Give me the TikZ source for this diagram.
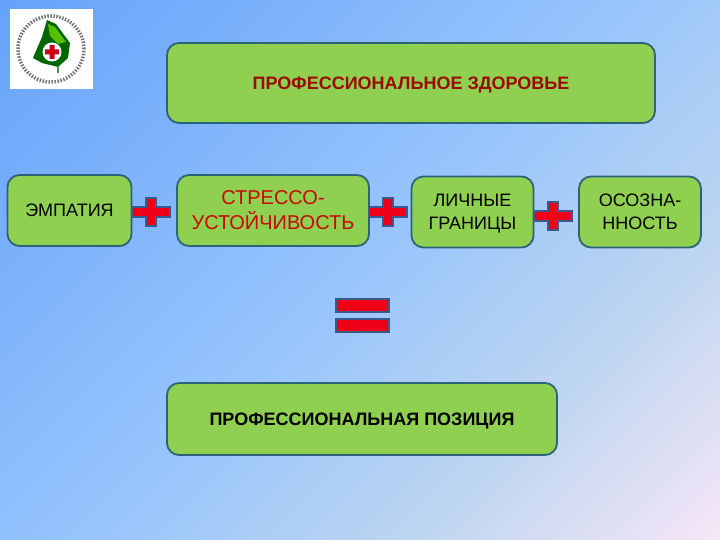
\documentclass[tikz,border=0pt]{standalone}
\usepackage{fontspec}
\setmainfont{Liberation Sans}
\usepackage{xcolor}
\usetikzlibrary{positioning,calc}

\definecolor{boxgreen}{HTML}{90D050}
\definecolor{boxline}{HTML}{2B6478}
\definecolor{bgblue}{HTML}{66A3FA}
\definecolor{bgmid}{HTML}{98C5FC}
\definecolor{bgpale}{HTML}{BDD5F0}
\definecolor{bgpink}{HTML}{F4E6F6}
\definecolor{signred}{HTML}{F00018}
\definecolor{signline}{HTML}{3B5A8C}
\definecolor{titlered}{HTML}{9A0A00}
\definecolor{stressred}{HTML}{C80808}

\pgfdeclareverticalshading{bgshade}{100bp}{
    color(0bp)=(bgpink); color(15bp)=(bgpink); color(32bp)=(bgpale); color(50bp)=(bgmid); color(85bp)=(bgblue); color(100bp)=(bgblue)}

\tikzset{
    greenbox/.style={draw=boxline, line width=1.8pt, fill=boxgreen, rounded corners=12pt,
        align=center, inner sep=0pt, text depth=0pt, font=\fontsize{18}{23}\selectfont},
    boldbox/.style={greenbox, font=\fontsize{18}{23}\bfseries\selectfont},
    signbar/.style={draw=signline, line width=1.2pt, fill=signred},
}

\begin{document}
\begin{tikzpicture}[x=1pt,y=-1pt]
    \useasboundingbox (0,0) rectangle (720,540);

    % Fond
    \shade[shading=bgshade, shading angle=45] (0,0) rectangle (720,540);

    % Logo
    \node[fill=white, minimum width=83pt, minimum height=80pt, inner sep=0pt] (logo) at (51.5,49) {};
    \draw[black!55, line width=3.5pt, dash pattern=on 1.5pt off 1.5pt] (51,49) circle (33pt);
    \fill[green!40!black] (47,20) -- (56,24) -- (70,43) -- (68,58) -- (58,67) -- (42,63) -- (33,58) -- (42,37) -- cycle;
    \fill[green!55!yellow!75!black] (48,24) -- (55,27) -- (66,42) -- (58,44) -- (50,36) -- cycle;
    \draw[green!40!black!70!white, line width=1.5pt] (58,66) -- (58,73);
    \fill[white] (52,52) circle (9.5pt);
    \fill[signred!85!black] (49.5,45) rectangle (54.5,59) (45,49.5) rectangle (59,54.5);

    % Boites
    \node[boldbox, minimum width=488pt, minimum height=80pt, text=titlered] (health) at (411,83) {ПРОФЕССИОНАЛЬНОЕ ЗДОРОВЬЕ};
    \node[greenbox, minimum width=124pt, minimum height=71pt] (empathy) at (69.5,210.5) {ЭМПАТИЯ};
    \node[greenbox, minimum width=192pt, minimum height=71pt, font=\fontsize{20}{25}\selectfont, text=stressred, text depth=-2pt] (stress) at (273,210.5) {СТРЕССО-\\УСТОЙЧИВОСТЬ};
    \node[greenbox, minimum width=122pt, minimum height=71pt, text depth=-4pt] (limits) at (472.5,212) {ЛИЧНЫЕ\\ГРАНИЦЫ};
    \node[greenbox, minimum width=122pt, minimum height=71pt, text depth=-2pt] (aware) at (640,212) {ОСОЗНА-\\ННОСТЬ};
    \node[boldbox, minimum width=390pt, minimum height=72pt] (position) at (362,419) {ПРОФЕССИОНАЛЬНАЯ ПОЗИЦИЯ};

    % Signes plus
    \foreach \name/\xc/\yc in {plusa/151/212, plusb/388/212, plusc/553/216} {
        \coordinate (\name) at (\xc,\yc);
        \draw[signbar] ($(\name)+(-19,-5)$) -- ($(\name)+(-5,-5)$) -- ($(\name)+(-5,-14)$) -- ($(\name)+(5,-14)$) -- ($(\name)+(5,-5)$) -- ($(\name)+(19,-5)$) -- ($(\name)+(19,5)$) -- ($(\name)+(5,5)$) -- ($(\name)+(5,14)$) -- ($(\name)+(-5,14)$) -- ($(\name)+(-5,5)$) -- ($(\name)+(-19,5)$) -- cycle;
    }

    % Signe egal
    \draw[signbar] (336,299) rectangle (389,312);
    \draw[signbar] (336,319) rectangle (389,332);
\end{tikzpicture}
\end{document}
